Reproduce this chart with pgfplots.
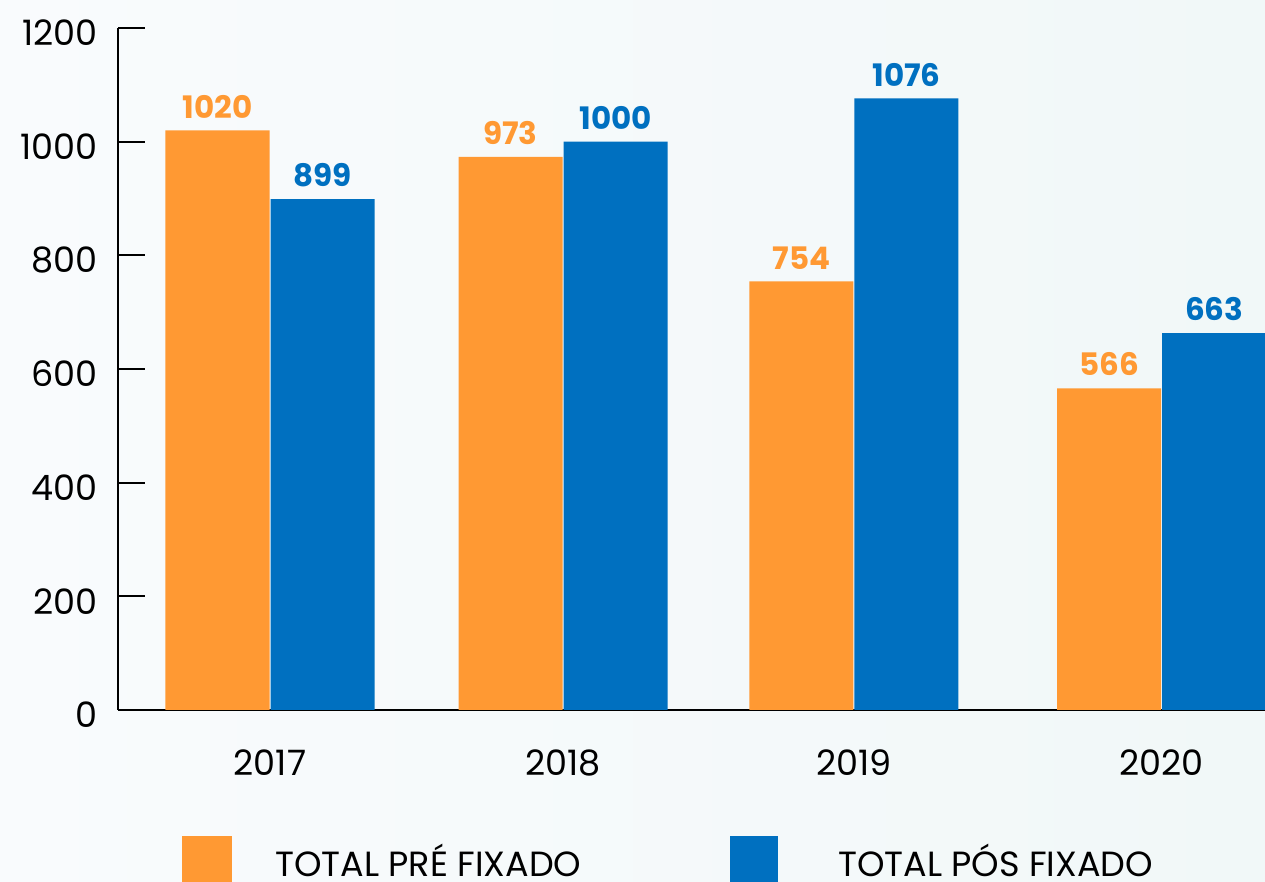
\documentclass[border=0pt]{standalone}
\usepackage{fontspec}
\setmainfont{Poppins}
\usepackage{pgfplots}
\pgfplotsset{compat=1.18}
\definecolor{cOr}{RGB}{255,153,51}
\definecolor{cBl}{RGB}{0,112,192}
\begin{document}
\begin{tikzpicture}[x=1pt,y=1pt]
\useasboundingbox (0,0) rectangle (1265,882);
\shade[left color={rgb,255:red,249;green,251;blue,253}, right color={rgb,255:red,241;green,248;blue,248}] (0,0) rectangle (1265,882);
\begin{axis}[
  at={(118pt,172pt)}, anchor=south west,
  scale only axis, width=1147pt, height=682pt,
  xmin=-0.5188, xmax=3.3959, ymin=0, ymax=1200,
  ybar, bar width=0.355,
  axis x line=bottom, axis y line=left,
  axis line style={-, line width=2.5pt, black},
  ytick={0,200,...,1200},
  xtick={0,1,1.993,3.043}, xticklabels={2017,2018,2019,2020},
  xtick style={draw=none},
  ytick style={line width=2pt, black},
  tick align=inside, major tick length=27pt,
  /pgf/number format/assume math mode=true,
  /pgf/number format/1000 sep={},
  yticklabel style={font=\fontsize{35}{40}\selectfont, inner sep=0pt, xshift=-20pt, yshift=-5pt},
  xticklabel style={font=\fontsize{35}{40}\selectfont, inner sep=0pt, yshift=-40pt},
  nodes near coords,
  every node near coord/.append style={font=\bfseries\fontsize{31}{36}\selectfont, inner sep=0pt, anchor=south, yshift=12pt},
  clip=false,
]
\addplot[bar shift=-0.1792, fill=cOr, draw=none, every node near coord/.append style={text=cOr}] coordinates {(0,1020) (1,973) (1.993,754) (3.043,566)};
\addplot[bar shift=0.1792, fill=cBl, draw=none, every node near coord/.append style={text=cBl}] coordinates {(0,899) (1,1000) (1.993,1076) (3.043,663)};
\end{axis}
\fill[cOr] (182,0) rectangle (232,46);
\node[anchor=west, font=\fontsize{35}{40}\selectfont, inner sep=0pt] at (275,22) {TOTAL PRÉ FIXADO};
\fill[cBl] (730,0) rectangle (778,46);
\node[anchor=west, font=\fontsize{35}{40}\selectfont, inner sep=0pt] at (838,22) {TOTAL PÓS FIXADO};
\end{tikzpicture}
\end{document}
